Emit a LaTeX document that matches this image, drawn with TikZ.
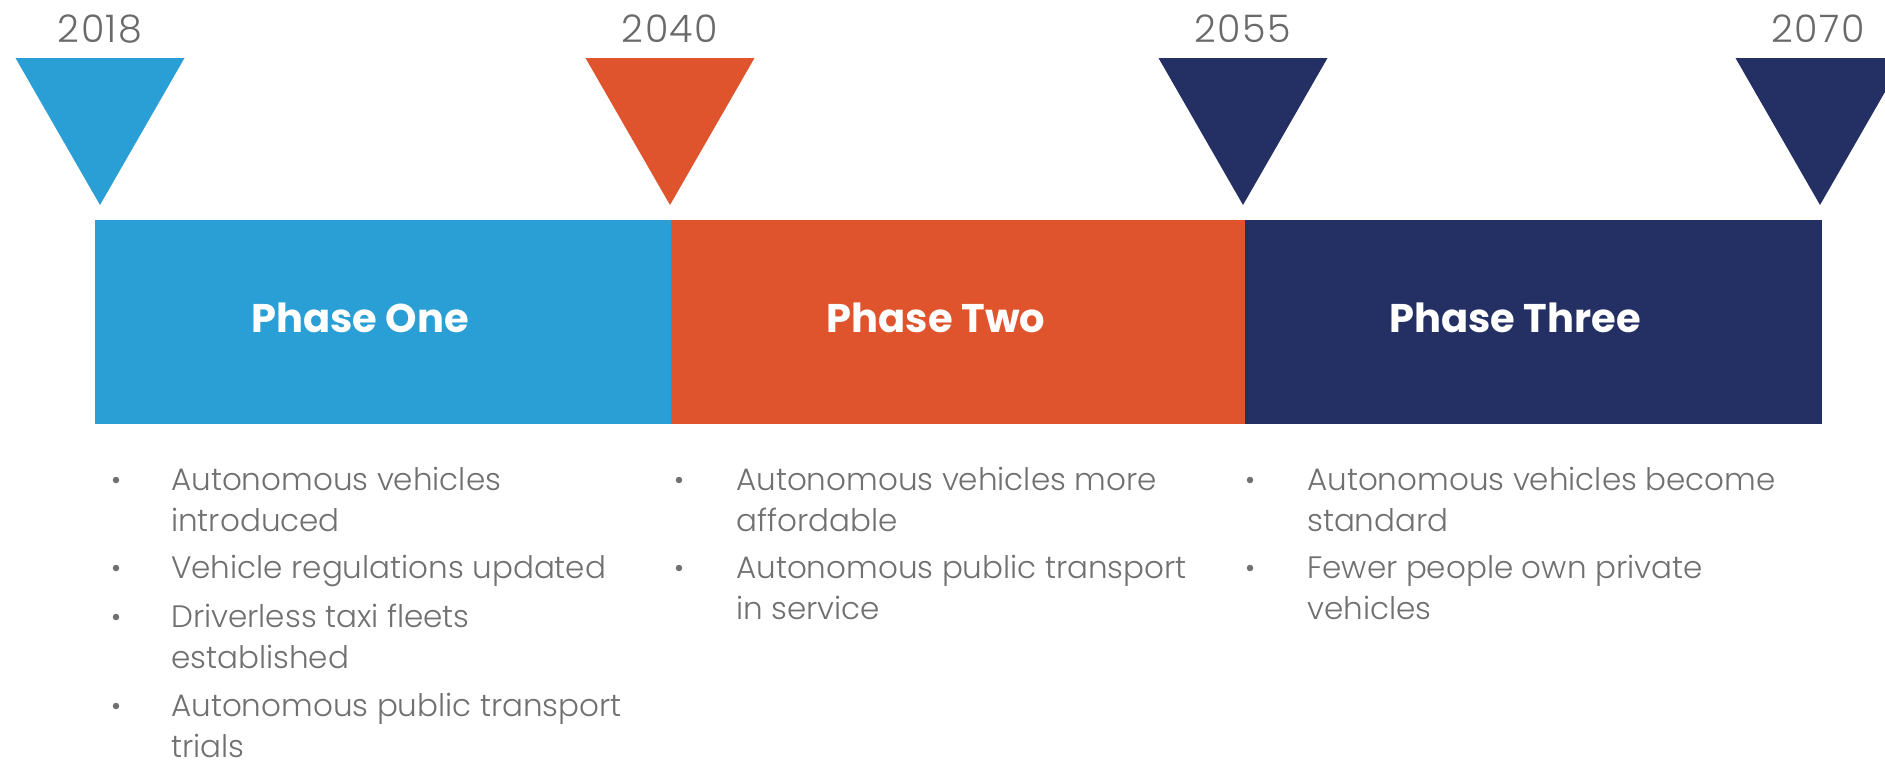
\documentclass[tikz,border=0pt]{standalone}
\usepackage{fontspec}
\usetikzlibrary{calc}
\setmainfont{Poppins}
\newfontfamily\lightfont{Poppins Light}
\newfontfamily\yearfont[LetterSpace=4]{Poppins Light}
\definecolor{cblue}{HTML}{2A9FD5}
\definecolor{corange}{HTML}{E0542D}
\definecolor{cnavy}{HTML}{243064}
\definecolor{ctext}{HTML}{707070}
\definecolor{cyear}{HTML}{6A6A6A}
\tikzset{
  seg/.style={draw=none, inner sep=0pt, minimum width=#1, minimum height=204pt, anchor=north west},
  phase/.style={text=white, font=\fontsize{40}{42}\selectfont\bfseries, anchor=base, inner sep=0pt},
  year/.style={text=cyear, font=\yearfont\fontsize{38}{40}\selectfont, anchor=base, inner sep=0pt},
  item/.style={text=ctext, font=\lightfont\fontsize{31}{41}\selectfont, anchor=base west, align=left, inner sep=0pt},
  dot/.style={circle, fill=ctext, inner sep=0pt, minimum size=6.5pt},
}
\begin{document}
\begin{tikzpicture}[x=1pt,y=-1pt]
\useasboundingbox (0,0) rectangle (1885,766);
% timeline markers
\coordinate (m1) at (100,205);
\coordinate (m2) at (670,205);
\coordinate (m3) at (1243,205);
\coordinate (m4) at (1820,205);
\fill[cblue]   ($(m1)+(-84.5,-147)$) -- ($(m1)+(84.5,-147)$) -- (m1) -- cycle;
\fill[corange] ($(m2)+(-84.5,-147)$) -- ($(m2)+(84.5,-147)$) -- (m2) -- cycle;
\fill[cnavy]   ($(m3)+(-84.5,-147)$) -- ($(m3)+(84.5,-147)$) -- (m3) -- cycle;
\fill[cnavy]   ($(m4)+(-84.5,-147)$) -- ($(m4)+(84.5,-147)$) -- (m4) -- cycle;
\node[year] (y1) at (100,42) {2018};
\node[year] (y2) at (670,42) {2040};
\node[year] (y3) at (1243,42) {2055};
\node[year] (y4) at (1818,42) {2070};
% bar
\node[seg=576pt, fill=cblue]   (p1) at (95,220) {};
\node[seg=574pt, fill=corange] (p2) at (671,220) {};
\node[seg=577pt, fill=cnavy]   (p3) at (1245,220) {};
\node[phase] (t1) at (360,332) {Phase One};
\node[phase] (t2) at (936,332) {Phase Two};
\node[phase] (t3) at (1515,332) {Phase Three};
% column 1 (base anchor = last line's baseline)
\node[dot] (d11) at (116,480) {};
\node[item] (i11) at (171,531) {Autonomous vehicles\\introduced};
\node[dot] (d12) at (116,568) {};
\node[item] (i12) at (171,578) {Vehicle regulations updated};
\node[dot] (d13) at (116,617) {};
\node[item] (i13) at (171,668) {Driverless taxi fleets\\established};
\node[dot] (d14) at (116,706) {};
\node[item] (i14) at (171,757) {Autonomous public transport\\trials};
% column 2
\node[dot] (d21) at (679,480) {};
\node[item] (i21) at (736,531) {Autonomous vehicles more\\affordable};
\node[dot] (d22) at (679,568) {};
\node[item] (i22) at (736,619) {Autonomous public transport\\in service};
% column 3
\node[dot] (d31) at (1250,480) {};
\node[item] (i31) at (1307,531) {Autonomous vehicles become\\standard};
\node[dot] (d32) at (1250,568) {};
\node[item] (i32) at (1307,619) {Fewer people own private\\vehicles};
\end{tikzpicture}
\end{document}
